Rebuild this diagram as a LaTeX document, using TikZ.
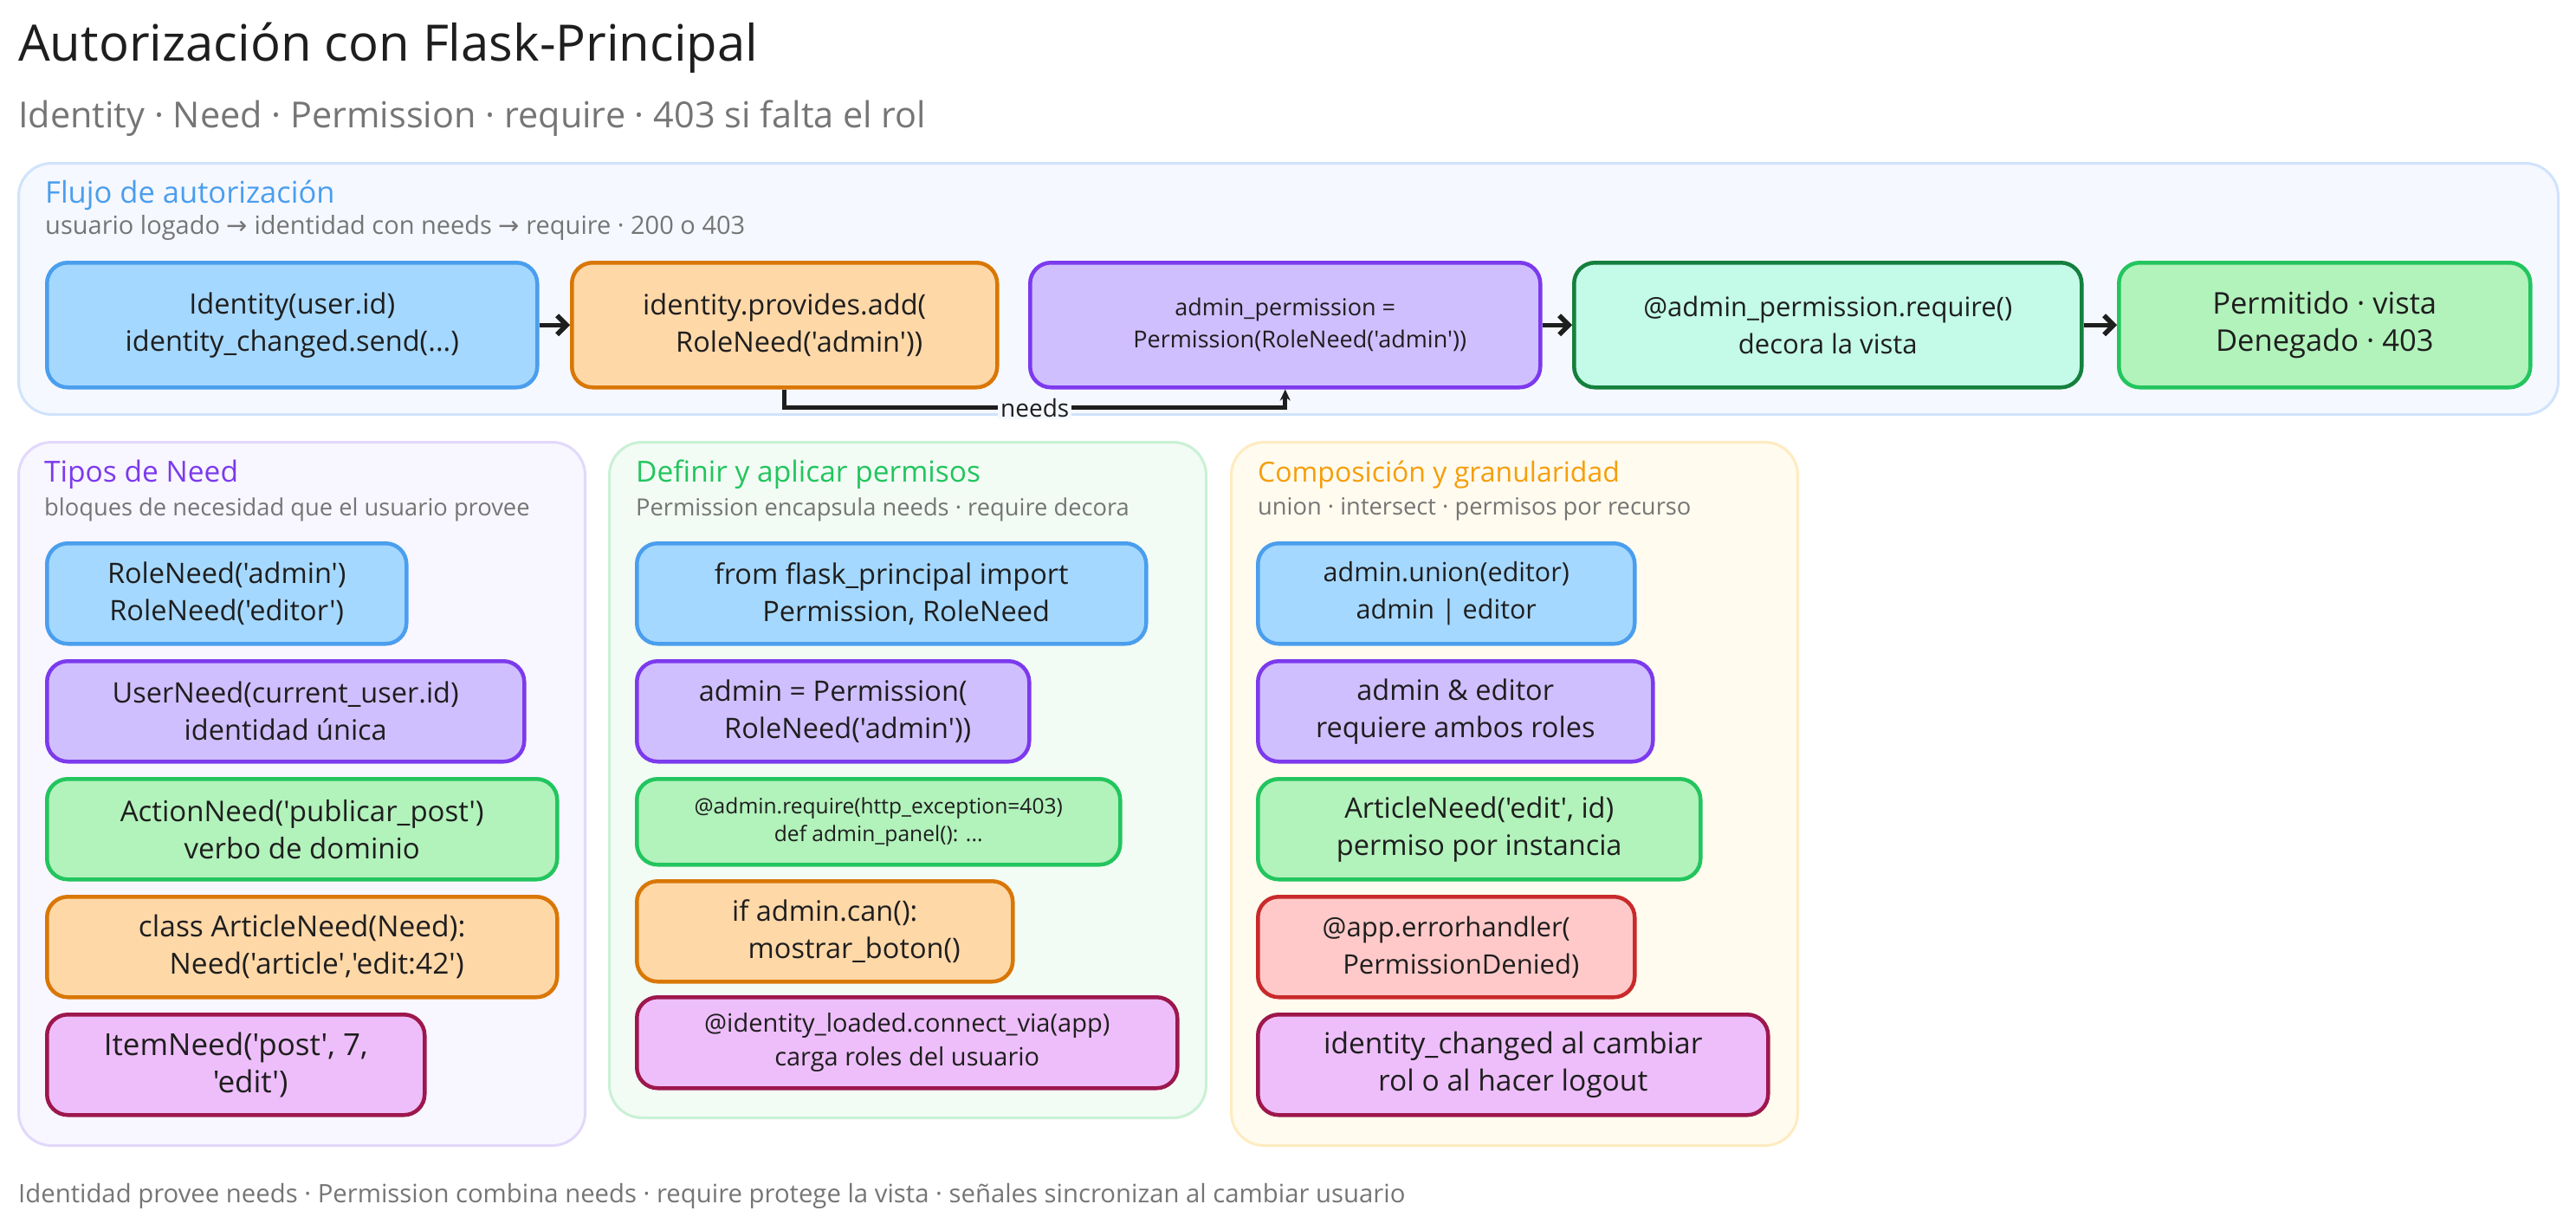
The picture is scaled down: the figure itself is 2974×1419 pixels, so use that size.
\documentclass[tikz,border=0pt]{standalone}
\usepackage{xcolor}
\usepackage{fontspec}
\usepackage{tikz}
\usetikzlibrary{arrows.meta}

\newfontfamily\mano{Open Sans}
\newfontfamily\flechas{DejaVu Sans}

\definecolor{tinta}{HTML}{1E1E1E}
\definecolor{gris}{HTML}{757575}
\definecolor{azulf}{HTML}{A5D8FF}
\definecolor{azuls}{HTML}{4A9EED}
\definecolor{naranjaf}{HTML}{FFD8A8}
\definecolor{naranjas}{HTML}{D97706}
\definecolor{moradof}{HTML}{D0BFFF}
\definecolor{morados}{HTML}{7C3AED}
\definecolor{verdef}{HTML}{B2F2BB}
\definecolor{verdes}{HTML}{22C55E}
\definecolor{mentaf}{HTML}{C3FAE8}
\definecolor{mentas}{HTML}{15803D}
\definecolor{rosaf}{HTML}{EEBEFA}
\definecolor{rosas}{HTML}{9D174D}
\definecolor{rojof}{HTML}{FFC9C9}
\definecolor{rojos}{HTML}{C92A2A}
\definecolor{ambar}{HTML}{F59E0B}
\definecolor{pazulf}{HTML}{F5F8FF}
\definecolor{pazuls}{HTML}{D0E3FB}
\definecolor{pmoradof}{HTML}{F8F6FF}
\definecolor{pmorados}{HTML}{E2D8FB}
\definecolor{pverdef}{HTML}{F2FBF4}
\definecolor{pverdes}{HTML}{C9F1D5}
\definecolor{pambarf}{HTML}{FFFBEF}
\definecolor{pambars}{HTML}{FEEBC0}

\newcommand{\sangria}{\hspace*{34pt}}

\tikzset{
  panel/.style={draw,rounded corners=38pt,line width=3pt,anchor=north west,inner sep=0pt},
  pazul/.style={panel,fill=pazulf,draw=pazuls},
  pmorado/.style={panel,fill=pmoradof,draw=pmorados},
  pverde/.style={panel,fill=pverdef,draw=pverdes},
  pambar/.style={panel,fill=pambarf,draw=pambars},
  caja/.style={draw,rounded corners=24pt,line width=4.5pt,anchor=north west,align=center,inner sep=0pt,
    text=tinta,font=\mano\fontsize{32.5}{43}\selectfont},
  azul/.style={caja,fill=azulf,draw=azuls},
  naranja/.style={caja,fill=naranjaf,draw=naranjas},
  morado/.style={caja,fill=moradof,draw=morados},
  verde/.style={caja,fill=verdef,draw=verdes},
  menta/.style={caja,fill=mentaf,draw=mentas},
  rosa/.style={caja,fill=rosaf,draw=rosas},
  rojo/.style={caja,fill=rojof,draw=rojos},
  titulo/.style={anchor=west,inner sep=0pt,font=\mano\fontsize{33.5}{40}\selectfont},
  nota/.style={anchor=west,inner sep=0pt,text=gris,font=\mano\fontsize{27.3}{34}\selectfont},
  flecha/.style={draw=tinta,line width=5.5pt,-{Straight Barb[length=11pt,width=22pt]}},
}

\begin{document}
\begin{tikzpicture}[x=1pt,y=-1pt]
    \useasboundingbox (0,0) rectangle (2974,1419);

    \node[anchor=west,inner sep=0pt,text=tinta,font=\mano\fontsize{58}{66}\selectfont] (cabecera) at (21,55) {Autorización con Flask-Principal};
    \node[anchor=west,inner sep=0pt,text=gris,font=\mano\fontsize{41.4}{48}\selectfont] (subcabecera) at (21,137) {Identity · Need · Permission · require · 403 si falta el rol};

    % flujo
    \node[pazul,minimum width=2932,minimum height=290] (flujo) at (20,187) {};
    \node[titulo,text=azuls,font=\mano\fontsize{34.5}{40}\selectfont] (flujot) at (52,225) {Flujo de autorización};
    \node[nota,font=\mano\fontsize{29}{34}\selectfont] (flujon) at (52,263) {usuario logado {\flechas →} identidad con needs {\flechas →} require · 200 o 403};

    \node[azul,minimum width=566,minimum height=144] (identidad) at (52,301) {Identity(user.id)\\identity\_changed.send(...)};
    \node[naranja,minimum width=491,minimum height=144] (provee) at (658,301) {identity.provides.add(\\\sangria RoleNeed('admin'))};
    \node[morado,minimum width=589,minimum height=144,font=\mano\fontsize{27}{37}\selectfont] (permiso) at (1187,301) {admin\_permission =\\\sangria Permission(RoleNeed('admin'))};
    \node[menta,minimum width=586,minimum height=144,font=\mano\fontsize{31}{43}\selectfont] (decora) at (1815,301) {@admin\_permission.require()\\decora la vista};
    \node[verde,minimum width=475,minimum height=144,font=\mano\fontsize{34.5}{43}\selectfont] (resultado) at (2444,301) {Permitido · vista\\Denegado · 403};

    \draw[flecha] (identidad) -- (provee);
    \draw[flecha] (permiso) -- (decora);
    \draw[flecha] (decora) -- (resultado);
    \draw[draw=tinta,line width=5pt,-{Stealth[length=13pt,width=12pt]}] (provee.south) -- ++(0,21) -| node[pos=0.25,fill=pazulf,inner sep=3pt,text=tinta,font=\mano\fontsize{28}{32}\selectfont] (needs) {needs} (permiso.south);

    % tipos
    \node[pmorado,minimum width=654,minimum height=812] (tipos) at (20,509) {};
    \node[titulo,text=morados] (tipost) at (51,548) {Tipos de Need};
    \node[nota] (tiposn) at (51,588) {bloques de necesidad que el usuario provee};

    \node[azul,minimum width=415,minimum height=116] (rol) at (52,625) {RoleNeed('admin')\\RoleNeed('editor')};
    \node[morado,minimum width=551,minimum height=116] (usuario) at (52,761) {UserNeed(current\_user.id)\\identidad única};
    \node[verde,minimum width=589,minimum height=116,font=\mano\fontsize{33}{43}\selectfont] (accion) at (52,897) {ActionNeed('publicar\_post')\\verbo de dominio};
    \node[naranja,minimum width=589,minimum height=116,font=\mano\fontsize{33.5}{43}\selectfont] (articulo) at (52,1033) {class ArticleNeed(Need):\\\sangria Need('article','edit:42')};
    \node[rosa,minimum width=436,minimum height=116,font=\mano\fontsize{35}{43}\selectfont] (item) at (52,1169) {ItemNeed('post', 7,\\\sangria 'edit')};

    % definir
    \node[pverde,minimum width=689,minimum height=780] (definir) at (702,509) {};
    \node[titulo,text=verdes] (definirt) at (734,548) {Definir y aplicar permisos};
    \node[nota] (definirn) at (734,588) {Permission encapsula needs · require decora};

    \node[azul,minimum width=588,minimum height=116] (importa) at (733,625) {from flask\_principal import\\\sangria Permission, RoleNeed};
    \node[morado,minimum width=453,minimum height=116] (admin) at (733,761) {admin = Permission(\\\sangria RoleNeed('admin'))};
    \node[verde,minimum width=558,minimum height=99,font=\mano\fontsize{24.6}{32}\selectfont] (panelv) at (733,897) {@admin.require(http\_exception=403)\\def admin\_panel(): ...};
    \node[naranja,minimum width=434,minimum height=116] (puede) at (733,1015) {if admin.can():\\\sangria\sangria mostrar\_boton()};
    \node[rosa,minimum width=624,minimum height=105,font=\mano\fontsize{29}{39}\selectfont] (carga) at (733,1149) {@identity\_loaded.connect\_via(app)\\carga roles del usuario};

    % composicion
    \node[pambar,minimum width=654,minimum height=812] (compo) at (1420,509) {};
    \node[titulo,text=ambar,font=\mano\fontsize{32}{40}\selectfont] (compot) at (1452,548) {Composición y granularidad};
    \node[nota] (compon) at (1452,588) {union · intersect · permisos por recurso};

    \node[azul,minimum width=435,minimum height=116,font=\mano\fontsize{30.5}{43}\selectfont] (union) at (1450,625) {admin.union(editor)\\admin | editor};
    \node[morado,minimum width=456,minimum height=116] (ambos) at (1450,761) {admin \& editor\\requiere ambos roles};
    \node[verde,minimum width=511,minimum height=116] (instancia) at (1450,897) {ArticleNeed('edit', id)\\permiso por instancia};
    \node[rojo,minimum width=435,minimum height=116,font=\mano\fontsize{31}{43}\selectfont] (error) at (1450,1033) {@app.errorhandler(\\\sangria PermissionDenied)};
    \node[rosa,minimum width=589,minimum height=116,font=\mano\fontsize{33.5}{43}\selectfont] (cambio) at (1450,1169) {identity\_changed al cambiar\\rol o al hacer logout};

    \node[nota,font=\mano\fontsize{29.3}{34}\selectfont] (pie) at (21,1381) {Identidad provee needs · Permission combina needs · require protege la vista · señales sincronizan al cambiar usuario};
\end{tikzpicture}
\end{document}
